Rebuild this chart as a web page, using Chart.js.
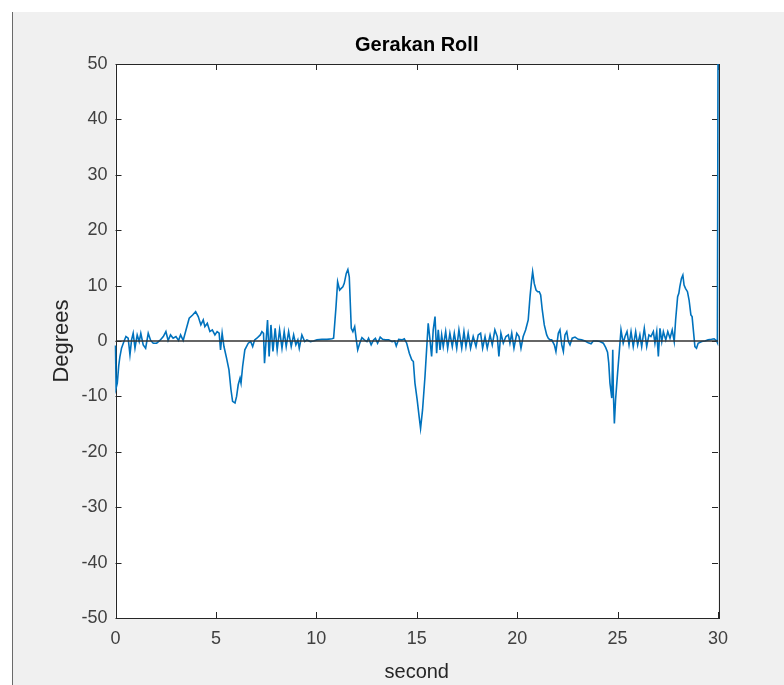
<!DOCTYPE html>
<html>
<head>
<meta charset="utf-8">
<title>Gerakan Roll</title>
<script src="https://cdn.jsdelivr.net/npm/chart.js@4.4.1/dist/chart.umd.min.js"></script>
<style>
  body { margin: 0; background: #fff; }
  #frame {
    position: absolute; left: 12px; top: 12px; width: 772px; height: 673px;
    box-sizing: border-box; background: #f0f0f0; border-left: 1px solid #6a6a6a;
  }
  #rollChart { position: absolute; left: 0; top: 0; }
</style>
</head>
<body>
<div id="frame"></div>
<canvas id="rollChart" width="784" height="685"></canvas>
<script>
// time in seconds, roll angle in degrees
const time = [
    0.00, 0.03, 0.09, 0.16, 0.22, 0.30, 0.42, 0.52, 0.63, 0.72, 0.80, 0.88, 0.97, 1.08, 1.18, 1.26, 1.38, 1.50,
    1.63, 1.75, 1.88, 2.05, 2.21, 2.38, 2.51, 2.62, 2.74, 2.87, 3.01, 3.14, 3.24, 3.37, 3.51, 3.67, 3.84, 3.99,
    4.12, 4.25, 4.37, 4.45, 4.57, 4.70, 4.82, 4.95, 5.06, 5.16, 5.23, 5.31, 5.40, 5.53, 5.65, 5.75, 5.83, 5.95,
    6.03, 6.11, 6.20, 6.25, 6.33, 6.44, 6.61, 6.73, 6.83, 6.93, 7.04, 7.21, 7.29, 7.37, 7.42, 7.50, 7.57, 7.65,
    7.74, 7.84, 7.95, 8.05, 8.17, 8.29, 8.40, 8.50, 8.62, 8.75, 8.87, 8.98, 9.08, 9.15, 9.28, 9.42, 9.53, 9.70,
    9.86, 10.03, 10.28, 10.53, 10.78, 10.86, 10.98, 11.06, 11.16, 11.24, 11.32, 11.39, 11.49, 11.57, 11.64, 11.74,
    11.82, 11.91, 11.99, 12.06, 12.16, 12.27, 12.39, 12.52, 12.60, 12.73, 12.85, 12.94, 13.05, 13.18, 13.30, 13.43,
    13.60, 13.77, 13.90, 13.98, 14.10, 14.26, 14.38, 14.50, 14.63, 14.75, 14.83, 14.91, 15.02, 15.12, 15.19, 15.29,
    15.41, 15.49, 15.57, 15.66, 15.74, 15.82, 15.91, 15.99, 16.07, 16.16, 16.24, 16.32, 16.44, 16.54, 16.65, 16.77,
    16.87, 16.99, 17.10, 17.24, 17.35, 17.45, 17.56, 17.68, 17.81, 17.95, 18.06, 18.18, 18.28, 18.40, 18.51, 18.65,
    18.76, 18.89, 19.01, 19.09, 19.19, 19.31, 19.44, 19.56, 19.64, 19.73, 19.84, 19.98, 20.09, 20.19, 20.30, 20.42,
    20.55, 20.64, 20.72, 20.77, 20.85, 20.94, 21.02, 21.10, 21.17, 21.25, 21.35, 21.47, 21.55, 21.64, 21.72, 21.85,
    21.93, 22.05, 22.13, 22.22, 22.30, 22.38, 22.47, 22.55, 22.63, 22.74, 22.88, 23.04, 23.21, 23.38, 23.54, 23.68,
    23.79, 23.96, 24.12, 24.29, 24.41, 24.50, 24.56, 24.62, 24.71, 24.76, 24.79, 24.84, 24.90, 25.00, 25.08, 25.17,
    25.28, 25.37, 25.47, 25.57, 25.67, 25.78, 25.90, 26.00, 26.11, 26.20, 26.33, 26.45, 26.56, 26.66, 26.78, 26.86,
    26.95, 27.03, 27.11, 27.20, 27.28, 27.40, 27.50, 27.61, 27.72, 27.82, 27.89, 27.99, 28.05, 28.10, 28.18, 28.25,
    28.31, 28.38, 28.48, 28.56, 28.65, 28.71, 28.78, 28.85, 28.93, 29.01, 29.19, 29.35, 29.51, 29.68, 29.81, 29.93,
    29.97, 30.00
];
const roll = [
    -0.8, -8.5, -7.6, -4.5, -2.8, -1.3, -0.1, 0.8, 0.5, -2.5, 0.2, 1.4, -1.3, 1.1, -0.1, 1.4, -0.7, -1.3,
    1.4, 0.1, -0.4, -0.4, 0.1, 0.8, 1.7, 0.1, 1.1, 0.5, 0.8, 0.1, 1.1, 0.1, 2.0, 4.1, 4.7, 5.3,
    4.4, 2.9, 3.8, 2.6, 3.2, 1.7, 2.0, 1.1, 1.7, 1.4, -1.6, 1.4, -1.0, -3.1, -5.2, -8.8, -10.9, -11.2,
    -10.0, -7.9, -6.7, -7.6, -4.6, -1.6, -0.4, -0.1, -1.0, 0.2, 0.5, 1.1, 1.7, 1.4, -4.0, 0.2, 3.8, -2.8,
    2.9, -1.9, 2.3, -1.6, 2.0, -1.3, 1.7, -1.0, 1.7, -1.0, 1.1, -0.7, 0.2, -1.3, 1.1, -0.1, 0.2, -0.1,
    0.0, 0.2, 0.3, 0.3, 0.4, 0.5, 6.2, 10.7, 9.2, 9.5, 9.8, 10.4, 12.2, 12.9, 11.6, 2.3,
    1.7, 2.6, 0.2, -1.6, -0.4, 0.6, 0.2, -0.1, 0.5, -0.7, 0.2, 0.5, -0.4, 0.7, 0.3, 0.2,
    0.2, -0.1, 0.0, -0.9, 0.3, 0.2, 0.4, -0.4, -2.2, -3.4, -3.7, -7.6, -10.6, -13.7, -15.8, -12.4,
    -6.4, -1.6, 3.2, 0.2, -2.8, 2.0, 4.4, -2.2, 2.0, -1.6, 1.1, -1.0, 1.7, -1.3, 1.4, -1.0,
    1.4, -1.3, 2.0, -1.3, 1.7, -1.0, 1.4, -1.3, 0.8, -1.0, 1.1, 1.4, -1.3, 0.8, -1.3, 1.1,
    -0.7, 2.0, 0.8, -2.8, 1.4, -0.4, 0.8, 1.1, -0.4, 1.4, -1.3, 1.4, 0.8, -1.3, 0.8, 2.0,
    3.8, 8.0, 11.0, 12.5, 10.4, 9.2, 8.9, 8.9, 8.3, 5.6, 2.9, 1.1, 0.5, 0.2, 0.2, -0.7,
    -1.9, 1.4, 2.0, -0.7, -1.9, 1.1, 1.7, -0.1, -0.7, 0.5, 0.7, 0.3, 0.2, 0.0, -0.3, -0.5,
    0.0, 0.0, -0.1, -0.4, -1.2, -2.0, -4.0, -7.6, -10.3, -1.6, -9.4, -14.9, -10.6, -5.8, -2.2, 2.0,
    -0.4, 0.8, 1.7, -0.7, 1.7, -1.0, 1.7, -0.7, 1.1, -1.0, 2.3, -1.0, 1.1, 0.8, 1.7, -0.4,
    1.7, -2.8, 2.3, -0.1, 1.7, 0.2, 1.7, 0.5, 2.0, -0.1, 3.8, 8.0, 8.6, 9.8, 11.3, 11.9,
    10.1, 9.5, 8.9, 7.4, 4.7, 4.4, 1.7, -1.0, -1.3, -0.4, -0.1, 0.0, 0.2, 0.3, 0.4, 0.0,
    -0.3, 50
];
const zeroLine = [0, 0];
const zeroTime = [0, 30];

const xTicks = [0, 5, 10, 15, 20, 25, 30];
const yTicks = [-50, -40, -30, -20, -10, 0, 10, 20, 30, 40, 50];

const fontFamily = "'Liberation Sans', Arial, Helvetica, sans-serif";

// white axes box, dark outline and inward tick marks like the original figure
const axesBox = {
    id: 'axesBox',
    afterLayout(chart) {
        // centre the title over the plot area, not the whole canvas
        const a = chart.chartArea;
        if (chart.titleBlock) {
            chart.titleBlock.left = a.left;
            chart.titleBlock.right = a.right;
            chart.titleBlock.width = a.right - a.left;
        }
    },
    beforeDraw(chart) {
        const a = chart.chartArea;
        const ctx = chart.ctx;
        ctx.save();
        ctx.fillStyle = '#ffffff';
        ctx.fillRect(a.left, a.top, a.right - a.left, a.bottom - a.top);
        ctx.restore();
    },
    beforeDatasetsDraw(chart) {
        const a = chart.chartArea;
        const ctx = chart.ctx;
        const len = 6;
        ctx.save();
        ctx.strokeStyle = '#262626';
        ctx.lineWidth = 1;
        ctx.beginPath();
        xTicks.forEach(v => {
            const px = Math.round(chart.scales.x.getPixelForValue(v)) + 0.5;
            ctx.moveTo(px, a.bottom); ctx.lineTo(px, a.bottom - len);
            ctx.moveTo(px, a.top); ctx.lineTo(px, a.top + len);
        });
        yTicks.forEach(v => {
            const py = Math.round(chart.scales.y.getPixelForValue(v)) + 0.5;
            ctx.moveTo(a.left, py); ctx.lineTo(a.left + len, py);
            ctx.moveTo(a.right, py); ctx.lineTo(a.right - len, py);
        });
        ctx.stroke();
        ctx.strokeRect(Math.round(a.left) + 0.5, Math.round(a.top) + 0.5,
            Math.round(a.right - a.left), Math.round(a.bottom - a.top));
        ctx.restore();
    }
};

new Chart(document.getElementById('rollChart'), {
    type: 'line',
    data: {
        datasets: [
            {
                label: 'zero',
                data: zeroTime.map((t, i) => ({ x: t, y: zeroLine[i] })),
                borderColor: '#333333',
                borderWidth: 1.3,
                pointRadius: 0
            },
            {
                label: 'Roll',
                data: time.map((t, i) => ({ x: t, y: roll[i] })),
                borderColor: '#0072BD',
                borderWidth: 1.6,
                pointRadius: 0,
                tension: 0,
                clip: { left: 2, right: 2, top: 0, bottom: 1 }
            }
        ]
    },
    options: {
        responsive: false,
        animation: false,
        devicePixelRatio: 1,
        layout: {
            padding: { left: 0, right: 66, top: 0, bottom: 0 }
        },
        plugins: {
            legend: { display: false },
            tooltip: { enabled: false },
            title: {
                display: true,
                text: 'Gerakan Roll',
                color: '#000000',
                font: { family: fontFamily, size: 20, weight: 'bold' },
                padding: { top: 33, bottom: 7 }
            }
        },
        scales: {
            x: {
                type: 'linear',
                min: 0,
                max: 30,
                grid: { display: false, drawTicks: false },
                border: { display: false },
                afterFit(scale) { scale.height = 67; },
                afterBuildTicks(scale) { scale.ticks = xTicks.map(v => ({ value: v })); },
                ticks: {
                    color: '#404040',
                    padding: 10,
                    font: { family: fontFamily, size: 18 }
                },
                title: {
                    display: true,
                    text: 'second',
                    color: '#262626',
                    font: { family: fontFamily, size: 20 },
                    padding: { top: 0, bottom: 1 }
                }
            },
            y: {
                min: -50,
                max: 50,
                grid: { display: false, drawTicks: false },
                border: { display: false },
                afterFit(scale) { scale.width = 115.5; },
                afterBuildTicks(scale) { scale.ticks = yTicks.map(v => ({ value: v })); },
                ticks: {
                    color: '#404040',
                    padding: 8,
                    font: { family: fontFamily, size: 18 }
                },
                title: {
                    display: true,
                    text: 'Degrees',
                    color: '#262626',
                    font: { family: fontFamily, size: 22 },
                    padding: { top: 49, bottom: 0 }
                }
            }
        }
    },
    plugins: [axesBox]
});
</script>
</body>
</html>
